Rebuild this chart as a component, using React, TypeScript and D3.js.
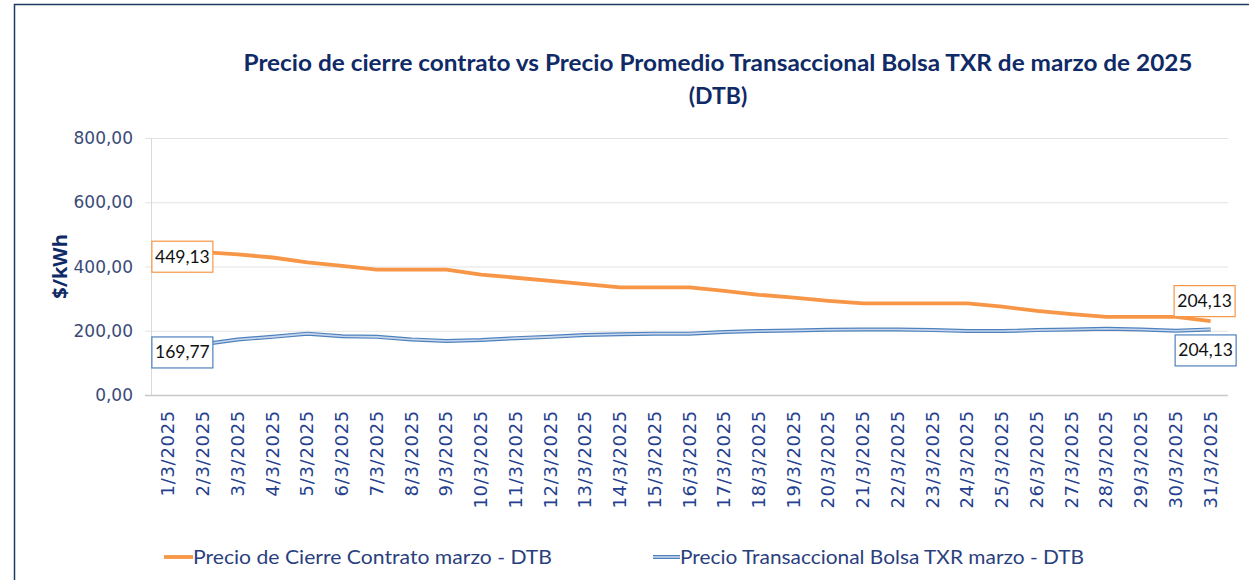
import { useEffect } from "react";
import * as d3 from "d3";

const days = d3.range(1, 32).map((d) => `${d}/3/2025`);

const contrato = [
  449.13, 445, 438, 428, 413, 402, 390, 390, 390, 375, 365, 355, 345, 335, 335, 335,
  324, 312, 303, 293, 285, 285, 285, 285, 275, 262, 252, 243, 243, 243, 230,
];

const bolsa = [
  169.77, 158, 173, 181, 191, 183, 181, 173, 168, 171, 177, 181, 187, 189, 191, 191,
  196, 199, 201, 203, 204, 204, 202, 199, 199, 202, 204, 206, 204, 200, 204.13,
];

const yTicks = [0, 200, 400, 600, 800];

const seriesNames = [
  "Precio de Cierre Contrato marzo - DTB",
  "Precio Transaccional Bolsa TXR marzo - DTB",
];

// labels as printed on the chart (first and last point of each series)
const contratoLabels = ["449,13", "204,13"];
const bolsaLabels = ["169,77", "204,13"];

const W = 1249;
const H = 580;
const margin = { left: 151, right: 21, top: 138, bottom: 185 };

const orange = "#F79646";
const blue = "#4F81BD";
const navy = "#0F2A66";

const fmt = (v: number) => v.toFixed(2).replace(".", ",");

export default function App() {
  useEffect(() => {
    document.body.style.margin = "0";
  }, []);

  const x = d3
    .scaleBand<string>()
    .domain(days)
    .range([margin.left, W - margin.right]);
  const cx = (d: string) => (x(d) ?? 0) + x.bandwidth() / 2;
  const y = d3
    .scaleLinear()
    .domain([0, 800])
    .range([H - margin.bottom, margin.top]);

  const line = d3
    .line<number>()
    .x((_, i) => cx(days[i]))
    .y((v) => y(v));

  const first = days[0];
  const last = days[days.length - 1];

  const label = (
    text: string,
    bx: number,
    by: number,
    color: string,
    key: string
  ) => (
    <g key={key}>
      <rect
        x={bx + 0.5}
        y={by + 0.5}
        width={61}
        height={31}
        fill="#fff"
        stroke={color}
        strokeWidth={1.2}
      />
      <text
        x={bx + 31}
        y={by + 22}
        textAnchor="middle"
        fontFamily="Lato, 'Open Sans', sans-serif"
        fontSize={17.5}
        fill="#111"
      >
        {text}
      </text>
    </g>
  );

  return (
    <svg width={W} height={H} style={{ display: "block", background: "#fff" }}>
      <rect
        x={14.5}
        y={4.5}
        width={W + 40}
        height={H + 40}
        fill="#fff"
        stroke="#1F3A60"
        strokeWidth={1.5}
      />

      <text
        x={718}
        y={71}
        textAnchor="middle"
        fontFamily="Lato, sans-serif"
        fontWeight={700}
        fontSize={23}
        fill={navy}
        textLength={949}
        lengthAdjust="spacingAndGlyphs"
      >
        Precio de cierre contrato vs Precio Promedio Transaccional Bolsa TXR de marzo de 2025
      </text>
      <text
        x={718}
        y={104}
        textAnchor="middle"
        fontFamily="Lato, sans-serif"
        fontWeight={700}
        fontSize={23}
        fill={navy}
      >
        (DTB)
      </text>

      {/* grid + y ticks */}
      {yTicks.map((t) => (
        <g key={t}>
          <line
            x1={margin.left - 6}
            x2={W - margin.right}
            y1={y(t) + 0.5}
            y2={y(t) + 0.5}
            stroke={t === 0 ? "#C8C8C8" : "#E3E3E3"}
            strokeWidth={t === 0 ? 1.6 : 1}
          />
          <text
            x={133}
            y={y(t) + 6}
            textAnchor="end"
            fontFamily="'DejaVu Sans', sans-serif"
            fontSize={17}
            fill="#3B4B78"
          >
            {fmt(t)}
          </text>
        </g>
      ))}
      <line
        x1={margin.left + 0.5}
        x2={margin.left + 0.5}
        y1={y(800)}
        y2={y(0)}
        stroke="#D9D9D9"
        strokeWidth={1}
      />

      <text
        transform={`translate(67,${(y(0) + y(800)) / 2}) rotate(-90)`}
        textAnchor="middle"
        fontFamily="'Open Sans', sans-serif"
        fontWeight={700}
        fontSize={20}
        fill={navy}
      >
        $/kWh
      </text>

      {/* x labels */}
      {days.map((d) => (
        <text
          key={d}
          transform={`translate(${cx(d) + 6},${y(0) + 15}) rotate(-90)`}
          textAnchor="end"
          fontFamily="'DejaVu Sans', sans-serif"
          fontSize={18}
          letterSpacing={0.7}
          fill="#24408E"
        >
          {d}
        </text>
      ))}

      {/* series */}
      <path
        d={line(contrato) ?? ""}
        fill="none"
        stroke={orange}
        strokeWidth={3.8}
        strokeLinejoin="round"
      />
      <path
        d={line(bolsa) ?? ""}
        fill="none"
        stroke={blue}
        strokeWidth={4}
        strokeLinejoin="round"
      />
      <path
        d={line(bolsa) ?? ""}
        fill="none"
        stroke="#C6D6EC"
        strokeWidth={1.6}
        strokeLinejoin="round"
      />

      {/* data labels */}
      {label(contratoLabels[0], cx(first) - 17, y(contrato[0]) - 10, orange, "c0")}
      {label(
        contratoLabels[1],
        cx(last) - 37,
        y(contrato[contrato.length - 1]) - 36,
        orange,
        "c1"
      )}
      {label(bolsaLabels[0], cx(first) - 17, y(bolsa[0]) - 4, blue, "b0")}
      {label(
        bolsaLabels[1],
        cx(last) - 36,
        y(bolsa[bolsa.length - 1]) + 5,
        blue,
        "b1"
      )}

      {/* legend */}
      <line x1={164} x2={193} y1={557} y2={557} stroke={orange} strokeWidth={3.8} />
      <text
        x={193}
        y={564}
        fontFamily="Lato, sans-serif"
        fontSize={19}
        fill="#2B3F7F"
        textLength={359}
        lengthAdjust="spacingAndGlyphs"
      >
        {seriesNames[0]}
      </text>
      <line x1={653} x2={680} y1={557} y2={557} stroke={blue} strokeWidth={4} />
      <line x1={653} x2={680} y1={557} y2={557} stroke="#C6D6EC" strokeWidth={1.6} />
      <text
        x={680}
        y={564}
        fontFamily="Lato, sans-serif"
        fontSize={19}
        fill="#2B3F7F"
        textLength={404}
        lengthAdjust="spacingAndGlyphs"
      >
        {seriesNames[1]}
      </text>
    </svg>
  );
}
